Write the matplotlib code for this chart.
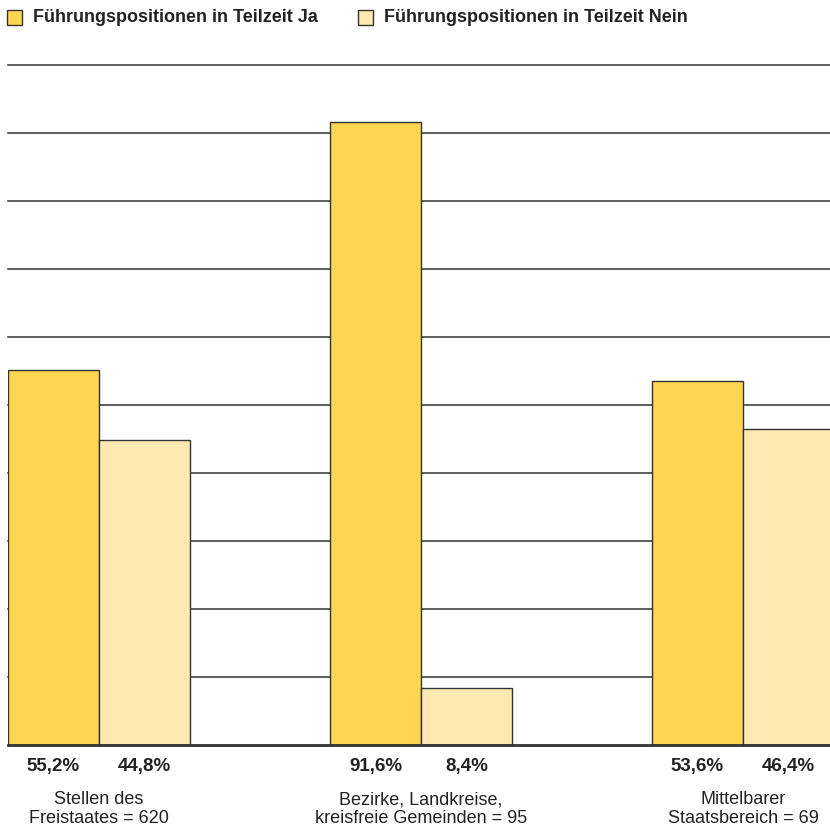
import matplotlib.pyplot as plt
from matplotlib.patches import Rectangle
import numpy as np

plt.rcParams['font.family'] = ['Liberation Sans', 'DejaVu Sans']

# data
categories = ['Stellen des\nFreistaates = 620',
              'Bezirke, Landkreise,\nkreisfreie Gemeinden = 95',
              'Mittelbarer\nStaatsbereich = 69']
ja = [55.2, 91.6, 53.6]
nein = [44.8, 8.4, 46.4]
ja_labels = ['55,2%', '91,6%', '53,6%']
nein_labels = ['44,8%', '8,4%', '46,4%']
legend_names = ['Führungspositionen in Teilzeit Ja',
                'Führungspositionen in Teilzeit Nein']

c_ja = '#fed651'
c_nein = '#ffe9b1'
dark = '#333333'

W, H = 830, 827
fig = plt.figure(figsize=(W / 100, H / 100), dpi=100)
ax = fig.add_axes([8 / W, (H - 745) / H, 822 / W, 680 / H])

x = np.arange(len(categories))
w = 91 / 322
ax.bar(x - w, ja, width=w, align='edge', color=c_ja, edgecolor=dark,
       linewidth=1.0, zorder=3)
ax.bar(x, nein, width=w, align='edge', color=c_nein, edgecolor=dark,
       linewidth=1.0, zorder=3)

for y in range(10, 101, 10):
    ax.axhline(y, color=dark, lw=1.1, zorder=1, clip_on=False)
ax.axhline(0, color=dark, lw=2.0, zorder=4, clip_on=False)

ax.set_xlim(-w, (830 - 99) / 322)
ax.set_ylim(0, 100)
ax.axis('off')

for i in x:
    ax.text(i - w / 2, -3.1, ja_labels[i], ha='center', va='center',
            fontsize=13.5, fontweight='bold', color='#222222')
    ax.text(i + w / 2, -3.1, nein_labels[i], ha='center', va='center',
            fontsize=13.5, fontweight='bold', color='#222222')
    ax.text(i, -6.8, categories[i], ha='center', va='top', fontsize=13,
            linespacing=1.1, color='#222222')

# legend
for lx, tx, col, name in [(7, 33, c_ja, legend_names[0]),
                          (358, 384, c_nein, legend_names[1])]:
    fig.patches.append(Rectangle((lx / W, (H - 25) / H), 15 / W, 15 / H,
                                 transform=fig.transFigure, facecolor=col,
                                 edgecolor=dark, linewidth=1.0))
    fig.text(tx / W, (H - 18) / H, name, ha='left', va='center',
             fontsize=13, fontweight='bold', color='#222222')

fig.savefig('out.png', dpi=100)
